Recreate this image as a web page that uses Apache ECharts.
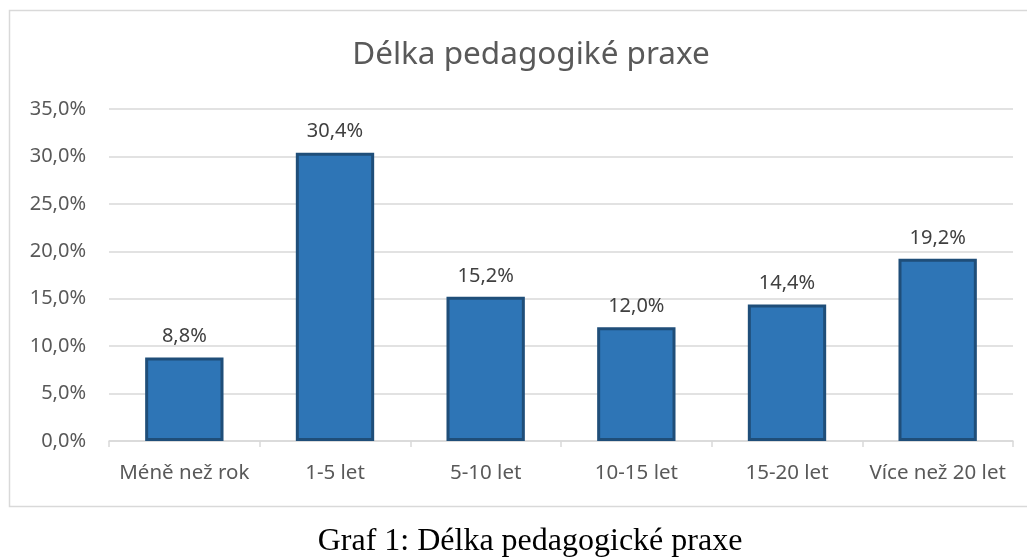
<!DOCTYPE html>
<html>
<head>
<meta charset="utf-8">
<script src="https://cdn.jsdelivr.net/npm/echarts@6/dist/echarts.min.js"></script>
<style>
  html, body { margin: 0; padding: 0; background: #fff; }
  #chart { width: 1027px; height: 557px; }
</style>
</head>
<body>
<div id="chart"></div>
<script>
// kategorie a hodnoty (v %)
const categories = ['Méně než rok', '1-5 let', '5-10 let', '10-15 let', '15-20 let', 'Více než 20 let']
const values = [8.8, 30.4, 15.2, 12.0, 14.4, 19.2]
const titleText = 'Délka pedagogiké praxe'
const captionText = 'Graf 1: Délka pedagogické praxe'

const fmt = function (v) {
  return v.toFixed(1).replace('.', ',') + '%'
}

const option = {
  animation: false,
  backgroundColor: '#fff',
  title: [
    {
      text: titleText,
      left: 526,
      top: 34,
      textAlign: 'center',
      textStyle: {
        fontFamily: 'Noto Sans',
        fontSize: 31.5,
        fontWeight: 'normal',
        color: '#595959'
      }
    },
    {
      text: captionText,
      left: 525,
      top: 521,
      textAlign: 'center',
      textStyle: {
        fontFamily: 'Liberation Serif',
        fontSize: 32,
        fontWeight: 'normal',
        color: '#000'
      }
    }
  ],
  graphic: [
    {
      type: 'rect',
      shape: { x: 9.5, y: 10.5, width: 1030, height: 496 },
      style: { fill: 'none', stroke: '#d9d9d9', lineWidth: 1.5 },
      z: -1
    }
  ],
  grid: {
    left: 109,
    right: 14,
    top: 109,
    bottom: 116
  },
  xAxis: {
    type: 'category',
    data: categories,
    axisLine: { lineStyle: { color: '#d9d9d9', width: 1.5 } },
    axisTick: { show: true, length: 6, lineStyle: { color: '#d9d9d9', width: 1.5 } },
    axisLabel: {
      interval: 0,
      margin: 22,
      fontFamily: 'Noto Sans',
      fontSize: 20.5,
      color: '#595959'
    }
  },
  yAxis: {
    type: 'value',
    min: 0,
    max: 35,
    interval: 5,
    axisLine: { show: false },
    axisTick: { show: false },
    splitLine: { lineStyle: { color: '#d9d9d9', width: 1.5 } },
    axisLabel: {
      margin: 23,
      fontFamily: 'Noto Sans',
      fontSize: 20,
      color: '#595959',
      formatter: fmt
    }
  },
  series: [
    {
      type: 'bar',
      data: values,
      barWidth: '52%',
      itemStyle: {
        color: '#2E75B6',
        borderColor: '#1F4E79',
        borderWidth: 3
      },
      label: {
        show: true,
        position: 'top',
        distance: 11,
        fontFamily: 'Noto Sans',
        fontSize: 20,
        color: '#404040',
        formatter: function (p) { return fmt(p.value) }
      }
    }
  ]
}

const myChart = echarts.init(document.getElementById('chart'))
myChart.setOption(option)
</script>
</body>
</html>
